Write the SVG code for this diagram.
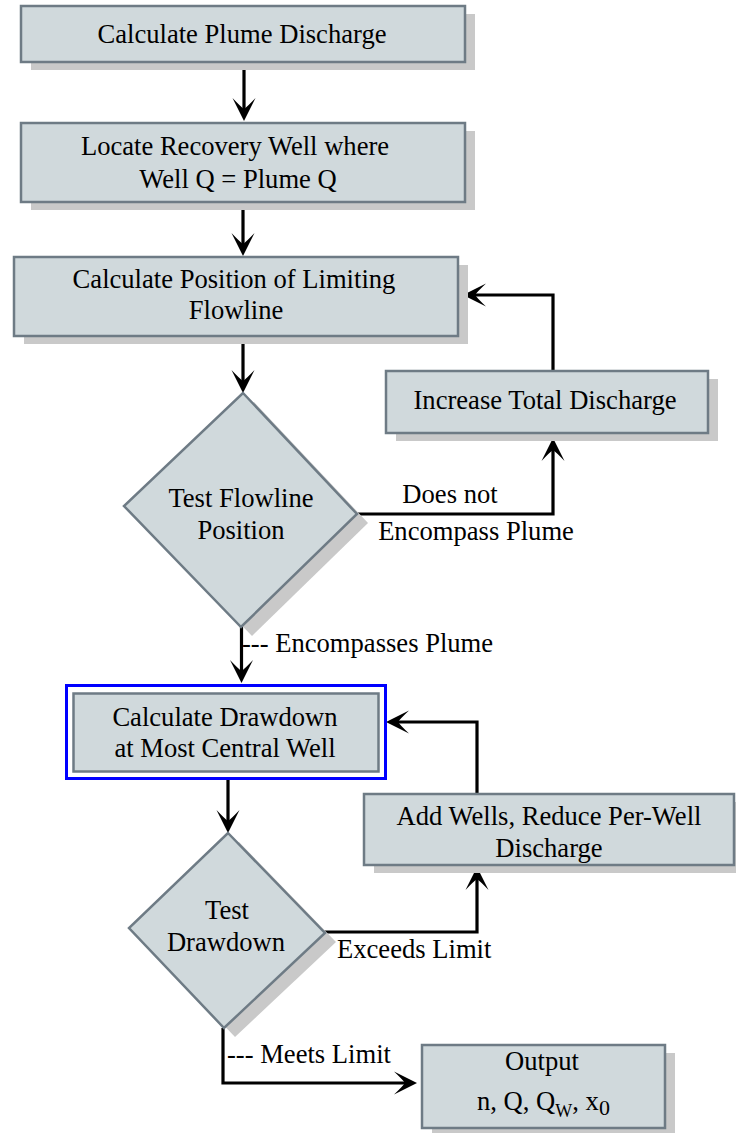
<svg xmlns="http://www.w3.org/2000/svg" width="736" height="1133" viewBox="0 0 736 1133">
<style>
.box{fill:#d0d9dc;stroke:#6e7b85;stroke-width:2.5}
.shd{fill:#c9c9c9;stroke:none}
.t{font-family:"Liberation Serif","Times New Roman",serif;font-size:26.6px;fill:#000}
.m{text-anchor:middle}
.c{fill:none;stroke:#000;stroke-width:3.2;marker-end:url(#ah)}
</style>
<defs>
<marker id="ah" markerUnits="userSpaceOnUse" viewBox="-25 -13 27 26" markerWidth="27" markerHeight="26" refX="-12" refY="0" orient="auto" overflow="visible">
<path d="M0,0 L-23,-11.5 Q-14,-3 -12,0 Q-14,3 -23,11.5 Z" fill="#000"/>
</marker>
</defs>
<rect width="736" height="1133" fill="#fff"/>

<g id="connectors">
<path class="c" d="M244,63 V109"/>
<path class="c" d="M243,203 V244"/>
<path class="c" d="M243,337 V381"/>
<path class="c" d="M356,514 H553 V450"/>
<path class="c" d="M553,370 V295 H475"/>
<path class="c" d="M241.5,627 V671"/>
<path class="c" d="M228,780 V821"/>
<path class="c" d="M323,932 H477 V879"/>
<path class="c" d="M477,793 V722 H398"/>
<path class="c" d="M223,1028 V1083 H405"/>
</g>

<g id="n1">
<rect class="shd" x="31" y="14" width="444" height="56"/>
<rect class="box" x="21" y="6" width="444" height="56"/>
<text class="t m" x="242" y="43">Calculate Plume Discharge</text>
</g>

<g id="n2">
<rect class="shd" x="31" y="131" width="444" height="79"/>
<rect class="box" x="21" y="123" width="444" height="79"/>
<text class="t m" x="235" y="155">Locate Recovery Well where</text>
<text class="t m" x="238" y="188">Well Q = Plume Q</text>
</g>

<g id="n3">
<rect class="shd" x="24" y="265" width="444" height="79"/>
<rect class="box" x="14" y="257" width="444" height="79"/>
<text class="t m" x="234" y="288">Calculate Position of Limiting</text>
<text class="t m" x="236" y="319">Flowline</text>
</g>

<g id="n4">
<rect class="shd" x="396" y="379" width="322" height="62"/>
<rect class="box" x="386" y="371" width="322" height="62"/>
<text class="t m" x="545" y="409">Increase Total Discharge</text>
</g>

<g id="d1">
<polygon class="shd" points="254,402 368,523 252,636 135,515"/>
<polygon class="box" points="243,393 357,514 241,627 124,506"/>
<text class="t m" x="241" y="507">Test Flowline</text>
<text class="t m" x="241" y="539">Position</text>
</g>

<g id="n5">
<rect x="66.5" y="685.5" width="319" height="93" fill="#fff" stroke="#0000ff" stroke-width="3"/>
<rect class="box" x="73.5" y="693.5" width="305" height="78" stroke-width="3"/>
<text class="t m" x="225" y="726">Calculate Drawdown</text>
<text class="t m" x="225" y="757">at Most Central Well</text>
</g>

<g id="n6">
<rect class="shd" x="374" y="802" width="370" height="71"/>
<rect class="box" x="364" y="794" width="370" height="71"/>
<text class="t m" x="549" y="825">Add Wells, Reduce Per-Well</text>
<text class="t m" x="549" y="857">Discharge</text>
</g>

<g id="d2">
<polygon class="shd" points="239,842 336,942 235,1037 140,937"/>
<polygon class="box" points="228,833 325,933 224,1028 129,928"/>
<text class="t m" x="227" y="919">Test</text>
<text class="t m" x="226" y="951">Drawdown</text>
</g>

<g id="n7">
<rect class="shd" x="432" y="1053" width="243" height="83"/>
<rect class="box" x="422" y="1045" width="243" height="83"/>
<text class="t m" x="542" y="1070">Output</text>
<text class="t" x="477" y="1110">n, Q, Q<tspan font-size="18" dy="7">W</tspan><tspan dy="-7">, x</tspan><tspan font-size="22" dy="5">0</tspan></text>
</g>

<g id="labels">
<text class="t m" x="450" y="503">Does not</text>
<text class="t m" x="476" y="540">Encompass Plume</text>
<text class="t" x="242" y="652">--- Encompasses Plume</text>
<text class="t" x="337" y="958">Exceeds Limit</text>
<text class="t" x="227" y="1063">--- Meets Limit</text>
</g>
</svg>
